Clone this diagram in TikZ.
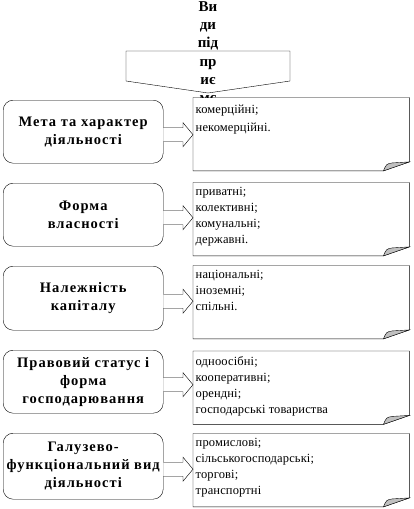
\documentclass[tikz,border=0pt]{standalone}
\usepackage{fontspec}
\setmainfont{Liberation Serif}
\newfontfamily\myLsp{Liberation Serif}[LetterSpace=7]
\newfontfamily\myRsp{Liberation Serif}[LetterSpace=1]
\newcommand\myLfont{\myLsp\bfseries\fontsize{14.5}{18}\selectfont}
\newcommand\myRfont{\myRsp\fontsize{12.5}{16}\selectfont}
\newcommand\myTfont{\bfseries\fontsize{15}{18.2}\selectfont}
\definecolor{foldgray}{RGB}{192,192,192}
\usetikzlibrary{calc}
\begin{document}
\begin{tikzpicture}[x=1pt,y=-1pt,
  lbox/.style={draw, rounded corners=10pt, fill=white, minimum width=160pt,
    minimum height=63pt, anchor=north west, inner sep=0pt, align=center, font=\myLfont},
  rbox/.style={fill=white, minimum width=216pt, minimum height=73pt,
    anchor=north west, inner sep=0pt},
  rtext/.style={anchor=north west, inner sep=0pt, align=left, font=\myRfont},
  blk/.style={draw, fill=white, line join=miter},
  fold/.style={draw, fill=foldgray}
]
\useasboundingbox (0,0) rectangle (413,509);
\fill[white] (0,0) rectangle (413,509);

% top pentagon
\draw[fill=white] (126,51) -- (290,51) -- (290,81) -- (208,93) -- (126,81) -- cycle;
\node[font=\myTfont, align=center, inner sep=0pt, anchor=north] (title) at (208,1.5)
  {Ви\\ди\\під\\пр\\иє\\мс};

% left boxes
\node[lbox] (l1) at (3,100) {Мета та характер\\діяльності};
\node[lbox] (l2) at (3,183) {Форма\\власності};
\node[lbox, minimum height=64pt] (l3) at (3,266) {Належність\\капіталу};
\node[lbox] (l4) at (3,350) {Правовий статус і\\форма\\господарювання};
\node[lbox, minimum height=66pt] (l5) at (3,433) {Галузево-\\функціональний вид\\діяльності};

% right boxes
\node[rbox] (r1) at (193,97.5) {};
\node[rbox] (r2) at (193,182.5) {};
\node[rbox] (r3) at (193,265.5) {};
\node[rbox] (r4) at (193,351) {};
\node[rbox] (r5) at (193,433.5) {};

\foreach \i in {1,...,5}{
  \draw (r\i.south west) -- (r\i.north west) -- (r\i.north east)
    -- ($(r\i.south east)+(0,-9)$) -- ($(r\i.south east)+(-26,0)$) -- cycle;
  \draw[fold] ($(r\i.south east)+(-26,0)$) .. controls ($(r\i.south east)+(-23,-7)$)
    .. ($(r\i.south east)+(-17,-8)$) -- ($(r\i.south east)+(0,-9)$) -- cycle;
  \coordinate (a\i) at ($(l\i.east)+(0,3)$);
  \coordinate (b\i) at (a\i -| r\i.west);
  \draw[blk] ($(a\i)+(0,-7)$) -- ($(b\i)+(-10,-7)$) -- ($(b\i)+(-10,-12)$) -- (b\i)
    -- ($(b\i)+(-10,12)$) -- ($(b\i)+(-10,7)$) -- ($(a\i)+(0,7)$);
}

% right texts
\node[rtext, font=\myRsp\fontsize{12.5}{18}\selectfont] (t1) at ($(r1.north west)+(2.5,7)$) {комерційні;\\некомерційні.};
\node[rtext] (t2) at ($(r2.north west)+(2.5,5)$) {приватні;\\колективні;\\комунальні;\\державні.};
\node[rtext] (t3) at ($(r3.north west)+(2.5,5)$) {національні;\\іноземні;\\спільні.};
\node[rtext] (t4) at ($(r4.north west)+(2.5,5)$) {одноосібні;\\кооперативні;\\орендні;\\господарські товариства};
\node[rtext] (t5) at ($(r5.north west)+(2.5,5)$) {промислові;\\сільськогосподарські;\\торгові;\\транспортні};
\end{tikzpicture}
\end{document}
